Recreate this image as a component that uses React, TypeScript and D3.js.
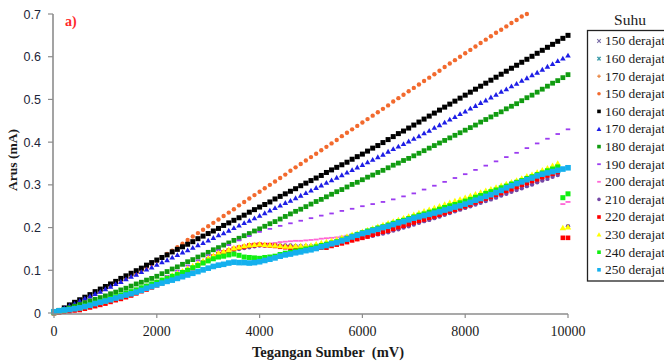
import React from "react";
import * as d3 from "d3";

// ---------- DATA ----------
const VOLTAGE_MV = [
  0, 100, 200, 300, 400, 500, 600, 700, 800, 900,
  1000, 1100, 1200, 1300, 1400, 1500, 1600, 1700, 1800, 1900,
  2000, 2100, 2200, 2300, 2400, 2500, 2600, 2700, 2800, 2900,
  3000, 3100, 3200, 3300, 3400, 3500, 3600, 3700, 3800, 3900,
  4000, 4100, 4200, 4300, 4400, 4500, 4600, 4700, 4800, 4900,
  5000, 5100, 5200, 5300, 5400, 5500, 5600, 5700, 5800, 5900,
  6000, 6100, 6200, 6300, 6400, 6500, 6600, 6700, 6800, 6900,
  7000, 7100, 7200, 7300, 7400, 7500, 7600, 7700, 7800, 7900,
  8000, 8100, 8200, 8300, 8400, 8500, 8600, 8700, 8800, 8900,
  9000, 9100, 9200, 9300, 9400, 9500, 9600, 9700, 9800, 9900,
  10000,
];
const VOLTAGE_MV_190 = VOLTAGE_MV.filter((_, i) => i % 2 === 0);

const LEGEND_TITLE = "Suhu";
const LEGEND_LABELS = [
  "150 derajat", "160 derajat", "170 derajat", "150 derajat", "160 derajat",
  "170 derajat", "180 derajat", "190 derajat", "200 derajat", "210 derajat",
  "220 derajat", "230 derajat", "240 derajat", "250 derajat",
];

const X_TICKS = [0, 2000, 4000, 6000, 8000, 10000];
const Y_TICKS = [0, 0.1, 0.2, 0.3, 0.4, 0.5, 0.6, 0.7];

const S150_A: (number | null)[] = [];
const S160_A: (number | null)[] = [];
const S170_A: (number | null)[] = [];

const S150_B = [
  0.000, 0.005, 0.010, 0.016, 0.021, 0.027, 0.033, 0.039, 0.045, 0.051,
  0.057, 0.063, 0.069, 0.075, 0.081, 0.087, 0.093, 0.099, 0.106, 0.114,
  0.122, 0.130, 0.138, 0.146, 0.154, 0.162, 0.171, 0.179, 0.187, 0.195,
  0.203, 0.211, 0.219, 0.227, 0.235, 0.243, 0.252, 0.260, 0.268, 0.276,
  0.284, 0.292, 0.300, 0.308, 0.316, 0.324, 0.333, 0.341, 0.349, 0.357,
  0.365, 0.373, 0.381, 0.389, 0.397, 0.405, 0.414, 0.422, 0.430, 0.438,
  0.446, 0.454, 0.462, 0.470, 0.478, 0.486, 0.495, 0.503, 0.511, 0.519,
  0.527, 0.535, 0.543, 0.551, 0.559, 0.567, 0.576, 0.584, 0.592, 0.600,
  0.608, 0.616, 0.624, 0.632, 0.640, 0.648, 0.656, 0.663, 0.671, 0.679,
  0.686, 0.694, 0.700,
];

const S160_B = [
  0.002, 0.006, 0.012, 0.019, 0.025, 0.031, 0.037, 0.043, 0.050, 0.056,
  0.062, 0.068, 0.074, 0.081, 0.087, 0.093, 0.099, 0.105, 0.112, 0.118,
  0.124, 0.130, 0.136, 0.143, 0.149, 0.155, 0.161, 0.167, 0.174, 0.180,
  0.186, 0.192, 0.198, 0.205, 0.211, 0.217, 0.223, 0.229, 0.236, 0.242,
  0.248, 0.254, 0.260, 0.267, 0.273, 0.279, 0.285, 0.291, 0.298, 0.304,
  0.310, 0.316, 0.322, 0.329, 0.335, 0.341, 0.347, 0.353, 0.360, 0.366,
  0.372, 0.379, 0.386, 0.392, 0.399, 0.406, 0.413, 0.420, 0.426, 0.433,
  0.440, 0.447, 0.454, 0.461, 0.468, 0.475, 0.482, 0.489, 0.496, 0.503,
  0.510, 0.517, 0.524, 0.531, 0.538, 0.545, 0.552, 0.559, 0.566, 0.573,
  0.580, 0.587, 0.594, 0.601, 0.608, 0.615, 0.622, 0.629, 0.636, 0.643,
  0.650,
];

const S170_B = [
  0.001, 0.006, 0.011, 0.017, 0.022, 0.028, 0.034, 0.039, 0.045, 0.050,
  0.056, 0.062, 0.068, 0.073, 0.079, 0.085, 0.090, 0.096, 0.102, 0.107,
  0.113, 0.119, 0.124, 0.130, 0.136, 0.142, 0.147, 0.153, 0.159, 0.164,
  0.170, 0.176, 0.182, 0.187, 0.193, 0.199, 0.205, 0.211, 0.216, 0.222,
  0.228, 0.234, 0.240, 0.246, 0.252, 0.258, 0.263, 0.269, 0.275, 0.281,
  0.287, 0.293, 0.299, 0.305, 0.311, 0.317, 0.323, 0.329, 0.335, 0.341,
  0.347, 0.353, 0.359, 0.365, 0.371, 0.378, 0.384, 0.390, 0.396, 0.402,
  0.408, 0.414, 0.421, 0.427, 0.434, 0.440, 0.446, 0.453, 0.459, 0.466,
  0.472, 0.479, 0.485, 0.492, 0.498, 0.505, 0.511, 0.518, 0.524, 0.531,
  0.537, 0.544, 0.550, 0.557, 0.563, 0.570, 0.577, 0.583, 0.590, 0.596,
  0.603,
];

const S180 = [
  0.000, 0.004, 0.008, 0.012, 0.016, 0.020, 0.024, 0.028, 0.032, 0.036,
  0.040, 0.045, 0.049, 0.054, 0.058, 0.063, 0.068, 0.072, 0.077, 0.081,
  0.086, 0.092, 0.097, 0.103, 0.108, 0.114, 0.120, 0.125, 0.131, 0.136,
  0.142, 0.148, 0.153, 0.159, 0.164, 0.170, 0.175, 0.181, 0.186, 0.192,
  0.197, 0.203, 0.209, 0.214, 0.220, 0.226, 0.232, 0.238, 0.243, 0.249,
  0.255, 0.261, 0.266, 0.272, 0.278, 0.284, 0.289, 0.295, 0.301, 0.306,
  0.312, 0.318, 0.323, 0.329, 0.334, 0.340, 0.346, 0.351, 0.357, 0.362,
  0.368, 0.374, 0.380, 0.386, 0.392, 0.398, 0.404, 0.410, 0.416, 0.422,
  0.428, 0.434, 0.440, 0.447, 0.453, 0.459, 0.465, 0.471, 0.478, 0.484,
  0.490, 0.497, 0.504, 0.510, 0.517, 0.524, 0.531, 0.538, 0.544, 0.551,
  0.558,
];

// 190 measured every 200 mV
const S190 = [
  0.000, 0.006, 0.012, 0.018, 0.024, 0.030, 0.039, 0.048, 0.057, 0.066,
  0.075, 0.087, 0.099, 0.111, 0.123, 0.135, 0.147, 0.159, 0.170, 0.180,
  0.190, 0.197, 0.204, 0.210, 0.216, 0.222, 0.228, 0.233, 0.239, 0.244,
  0.250, 0.255, 0.260, 0.266, 0.273, 0.280, 0.289, 0.298, 0.307, 0.316,
  0.325, 0.335, 0.345, 0.355, 0.365, 0.375, 0.386, 0.397, 0.408, 0.419,
  0.430,
];

const S200 = [
  0.002, 0.004, 0.005, 0.007, 0.008, 0.010, 0.013, 0.016, 0.019, 0.022,
  0.025, 0.029, 0.033, 0.037, 0.041, 0.045, 0.050, 0.055, 0.060, 0.065,
  0.070, 0.075, 0.081, 0.086, 0.092, 0.097, 0.103, 0.109, 0.115, 0.121,
  0.127, 0.131, 0.135, 0.140, 0.144, 0.148, 0.150, 0.153, 0.155, 0.158,
  0.160, 0.161, 0.163, 0.164, 0.166, 0.167, 0.168, 0.169, 0.169, 0.170,
  0.171, 0.172, 0.174, 0.175, 0.176, 0.177, 0.179, 0.181, 0.183, 0.185,
  0.187, 0.190, 0.192, 0.195, 0.197, 0.200, 0.203, 0.207, 0.210, 0.214,
  0.217, 0.221, 0.225, 0.228, 0.232, 0.236, 0.240, 0.244, 0.249, 0.253,
  0.257, 0.262, 0.266, 0.271, 0.275, 0.280, 0.285, 0.289, 0.294, 0.298,
  0.303, 0.308, 0.313, 0.317, 0.322, 0.327, 0.333, 0.338, 0.344, 0.255,
  0.260,
];

const S210 = [
  0.001, 0.003, 0.004, 0.006, 0.007, 0.009, 0.012, 0.015, 0.018, 0.021,
  0.024, 0.028, 0.032, 0.035, 0.039, 0.043, 0.048, 0.053, 0.058, 0.062,
  0.067, 0.072, 0.078, 0.083, 0.089, 0.094, 0.100, 0.106, 0.112, 0.118,
  0.124, 0.129, 0.134, 0.138, 0.143, 0.148, 0.150, 0.152, 0.154, 0.156,
  0.158, 0.158, 0.158, 0.158, 0.158, 0.158, 0.158, 0.157, 0.157, 0.157,
  0.157, 0.158, 0.159, 0.161, 0.162, 0.163, 0.166, 0.168, 0.171, 0.173,
  0.176, 0.179, 0.181, 0.184, 0.186, 0.189, 0.193, 0.196, 0.200, 0.203,
  0.207, 0.211, 0.215, 0.218, 0.222, 0.226, 0.230, 0.234, 0.238, 0.242,
  0.246, 0.250, 0.254, 0.258, 0.262, 0.266, 0.270, 0.275, 0.279, 0.284,
  0.288, 0.292, 0.297, 0.301, 0.306, 0.310, 0.314, 0.319, 0.323, null,
  0.203,
];

const S220 = [
  0.000, 0.001, 0.003, 0.004, 0.006, 0.007, 0.010, 0.013, 0.016, 0.019,
  0.022, 0.026, 0.030, 0.033, 0.037, 0.041, 0.046, 0.051, 0.055, 0.060,
  0.065, 0.070, 0.076, 0.081, 0.087, 0.092, 0.099, 0.105, 0.112, 0.118,
  0.125, 0.132, 0.138, 0.142, 0.146, 0.150, 0.153, 0.155, 0.158, 0.159,
  0.160, 0.159, 0.158, 0.157, 0.155, 0.154, 0.153, 0.152, 0.151, 0.151,
  0.152, 0.152, 0.153, 0.153, 0.157, 0.160, 0.163, 0.166, 0.170, 0.173,
  0.176, 0.179, 0.183, 0.186, 0.190, 0.193, 0.197, 0.201, 0.204, 0.208,
  0.212, 0.216, 0.219, 0.223, 0.226, 0.230, 0.234, 0.238, 0.242, 0.246,
  0.250, 0.254, 0.259, 0.263, 0.268, 0.272, 0.277, 0.281, 0.286, 0.290,
  0.295, 0.300, 0.304, 0.309, 0.313, 0.318, 0.322, 0.326, 0.330, 0.176,
  0.176,
];

const S230 = [
  0.002, 0.004, 0.006, 0.008, 0.010, 0.012, 0.015, 0.018, 0.022, 0.025,
  0.028, 0.032, 0.036, 0.040, 0.044, 0.048, 0.053, 0.058, 0.062, 0.067,
  0.072, 0.077, 0.082, 0.088, 0.093, 0.098, 0.104, 0.110, 0.116, 0.122,
  0.128, 0.134, 0.140, 0.144, 0.148, 0.152, 0.154, 0.157, 0.159, 0.160,
  0.161, 0.160, 0.159, 0.158, 0.157, 0.156, 0.156, 0.157, 0.157, 0.158,
  0.158, 0.161, 0.164, 0.166, 0.169, 0.172, 0.176, 0.179, 0.183, 0.186,
  0.190, 0.194, 0.198, 0.202, 0.206, 0.210, 0.214, 0.218, 0.222, 0.226,
  0.230, 0.234, 0.238, 0.242, 0.246, 0.250, 0.254, 0.258, 0.262, 0.266,
  0.270, 0.274, 0.278, 0.282, 0.286, 0.290, 0.294, 0.298, 0.302, 0.306,
  0.310, 0.315, 0.320, 0.324, 0.329, 0.334, 0.339, 0.345, 0.350, 0.199,
  0.201,
];

const S240 = [
  0.003, 0.005, 0.007, 0.009, 0.011, 0.013, 0.016, 0.020, 0.023, 0.027,
  0.030, 0.034, 0.038, 0.042, 0.046, 0.050, 0.054, 0.059, 0.063, 0.068,
  0.072, 0.077, 0.081, 0.086, 0.090, 0.095, 0.100, 0.106, 0.111, 0.117,
  0.122, 0.127, 0.131, 0.133, 0.136, 0.138, 0.135, 0.131, 0.130, 0.129,
  0.128, 0.130, 0.131, 0.133, 0.137, 0.140, 0.142, 0.145, 0.147, 0.150,
  0.152, 0.155, 0.158, 0.161, 0.164, 0.167, 0.171, 0.175, 0.180, 0.184,
  0.188, 0.192, 0.195, 0.199, 0.202, 0.206, 0.210, 0.214, 0.217, 0.221,
  0.225, 0.229, 0.232, 0.236, 0.239, 0.243, 0.247, 0.251, 0.254, 0.258,
  0.262, 0.266, 0.271, 0.275, 0.280, 0.284, 0.288, 0.293, 0.297, 0.302,
  0.306, 0.310, 0.315, 0.319, 0.324, 0.328, 0.333, 0.337, 0.342, 0.270,
  0.279,
];

const S250 = [
  0.003, 0.005, 0.007, 0.008, 0.010, 0.012, 0.015, 0.018, 0.022, 0.025,
  0.028, 0.031, 0.035, 0.038, 0.042, 0.045, 0.049, 0.053, 0.058, 0.062,
  0.066, 0.070, 0.074, 0.077, 0.081, 0.085, 0.089, 0.093, 0.097, 0.101,
  0.105, 0.109, 0.112, 0.114, 0.117, 0.119, 0.118, 0.118, 0.117, 0.118,
  0.120, 0.123, 0.126, 0.129, 0.133, 0.136, 0.138, 0.141, 0.143, 0.146,
  0.148, 0.151, 0.155, 0.158, 0.162, 0.165, 0.169, 0.173, 0.178, 0.182,
  0.186, 0.189, 0.193, 0.196, 0.200, 0.203, 0.207, 0.211, 0.214, 0.218,
  0.222, 0.225, 0.228, 0.231, 0.234, 0.237, 0.241, 0.244, 0.248, 0.251,
  0.255, 0.259, 0.264, 0.268, 0.273, 0.277, 0.282, 0.287, 0.293, 0.298,
  0.303, 0.307, 0.312, 0.316, 0.321, 0.325, 0.328, 0.331, 0.334, 0.337,
  0.340,
];

const SERIES_VALUES: (number | null)[][] = [
  S150_A, S160_A, S170_A, S150_B, S160_B, S170_B, S180, S190, S200, S210, S220, S230, S240, S250,
];
const SERIES_X: number[][] = [
  VOLTAGE_MV, VOLTAGE_MV, VOLTAGE_MV, VOLTAGE_MV, VOLTAGE_MV, VOLTAGE_MV, VOLTAGE_MV,
  VOLTAGE_MV_190, VOLTAGE_MV, VOLTAGE_MV, VOLTAGE_MV, VOLTAGE_MV, VOLTAGE_MV, VOLTAGE_MV,
];

// ---------- STYLE ----------
type Shape = "x" | "star" | "plus" | "circle" | "square" | "triangle" | "dash";
const STYLES: { shape: Shape; color: string; size: number }[] = [
  { shape: "x", color: "#7b6fa8", size: 5 },
  { shape: "star", color: "#3a9aa8", size: 5 },
  { shape: "plus", color: "#e8803a", size: 5 },
  { shape: "circle", color: "#f26a2e", size: 4.4 },
  { shape: "square", color: "#000000", size: 5 },
  { shape: "triangle", color: "#1e1ee6", size: 5.2 },
  { shape: "square", color: "#119c11", size: 4.8 },
  { shape: "dash", color: "#9b3cf0", size: 4.5 },
  { shape: "dash", color: "#ff66d6", size: 5 },
  { shape: "circle", color: "#7447a6", size: 4.4 },
  { shape: "square", color: "#ff0000", size: 4.6 },
  { shape: "triangle", color: "#ffff00", size: 6 },
  { shape: "square", color: "#11ee11", size: 5 },
  { shape: "square", color: "#14b0ee", size: 5.6 },
];

const SERIF = "'Liberation Serif', 'Times New Roman', serif";
const SANS = "'Liberation Sans', Arial, sans-serif";

function Marker({ shape, color, size, cx, cy }: { shape: Shape; color: string; size: number; cx: number; cy: number }) {
  const h = size / 2;
  switch (shape) {
    case "square":
      return <rect x={cx - h} y={cy - h} width={size} height={size} fill={color} />;
    case "circle":
      return <circle cx={cx} cy={cy} r={h} fill={color} />;
    case "triangle": {
      const p = d3.symbol(d3.symbolTriangle, size * size * 0.5)();
      return <path d={p || ""} transform={`translate(${cx},${cy + 0.5})`} fill={color} />;
    }
    case "dash":
      return <rect x={cx - h} y={cy - 0.9} width={size} height={1.8} fill={color} />;
    case "plus":
      return (
        <g stroke={color} strokeWidth={1.2}>
          <line x1={cx - h} x2={cx + h} y1={cy} y2={cy} />
          <line x1={cx} x2={cx} y1={cy - h} y2={cy + h} />
        </g>
      );
    case "x":
      return (
        <g stroke={color} strokeWidth={1.1}>
          <line x1={cx - h} x2={cx + h} y1={cy - h} y2={cy + h} />
          <line x1={cx - h} x2={cx + h} y1={cy + h} y2={cy - h} />
        </g>
      );
    case "star":
      return (
        <g stroke={color} strokeWidth={1.1}>
          <line x1={cx - h} x2={cx + h} y1={cy - h} y2={cy + h} />
          <line x1={cx - h} x2={cx + h} y1={cy + h} y2={cy - h} />
          <line x1={cx} x2={cx} y1={cy - h} y2={cy + h} />
        </g>
      );
  }
  return null;
}

export default function App() {
  const W = 664;
  const H = 361;
  const x = d3.scaleLinear().domain([0, 10000]).range([54, 568]);
  const y = d3.scaleLinear().domain([0, 0.7]).range([313, 14]);
  const axisColor = "#8c8c8c";

  const legendTop = 41;
  const legendStep = 17.6;

  return (
    <div style={{ position: "absolute", left: 0, top: 0 }}>
      <svg width={W} height={H} style={{ display: "block", background: "#fff" }}>
        {/* series */}
        {SERIES_VALUES.map((vals, si) => (
          <g key={si}>
            {vals.map((v, i) =>
              v == null ? null : (
                <Marker
                  key={i}
                  shape={STYLES[si].shape}
                  color={STYLES[si].color}
                  size={STYLES[si].size}
                  cx={x(SERIES_X[si][i])}
                  cy={y(v)}
                />
              )
            )}
          </g>
        ))}

        {/* axes */}
        <line x1={x(0)} x2={x(10000)} y1={y(0) + 1} y2={y(0) + 1} stroke={axisColor} strokeWidth={1.6} />
        <line x1={x(0) - 1} x2={x(0) - 1} y1={y(0.7)} y2={y(0) + 1} stroke={axisColor} strokeWidth={1.6} />
        {X_TICKS.map((t) => (
          <g key={t}>
            <line x1={x(t)} x2={x(t)} y1={y(0) + 1} y2={y(0) + 5} stroke={axisColor} strokeWidth={1.2} />
            <text x={x(t)} y={336} textAnchor="middle" fontFamily={SERIF} fontSize={14} fill="#1a1a1a">
              {t}
            </text>
          </g>
        ))}
        {Y_TICKS.map((t) => (
          <g key={t}>
            <line x1={x(0) - 6} x2={x(0) - 1} y1={y(t)} y2={y(t)} stroke={axisColor} strokeWidth={1.2} />
            <text x={41} y={y(t) + 4.5} textAnchor="end" fontFamily={SANS} fontSize={12.5} fill="#1c2438">
              {d3.format(".1~f")(t)}
            </text>
          </g>
        ))}

        {/* axis titles */}
        <text x={328} y={357} textAnchor="middle" fontFamily={SERIF} fontSize={14.5} fontWeight="bold" fill="#1a1a1a">
          Tegangan Sumber{"\u00a0\u00a0"}(mV)
        </text>
        <text
          transform={`translate(17,160) rotate(-90)`}
          textAnchor="middle"
          fontFamily={SERIF}
          fontSize={13.5}
          fontWeight="bold"
          fill="#1a1a1a"
        >
          Arus (mA)
        </text>
        <text x={65} y={26} fontFamily={SERIF} fontSize={14} fontWeight="bold" fill="#ff2a2a">
          a)
        </text>

        {/* legend */}
        <text x={630} y={25} textAnchor="middle" fontFamily={SERIF} fontSize={15.5} fill="#1a1a1a">
          {LEGEND_TITLE}
        </text>
        <rect x={587.5} y={30.5} width={90} height={250.5} fill="#fff" stroke="#222" strokeWidth={1.3} />
        {LEGEND_LABELS.map((lab, i) => {
          const cy = legendTop + i * legendStep;
          const st = STYLES[i];
          return (
            <g key={i}>
              <Marker shape={st.shape} color={st.color} size={st.shape === "triangle" ? 4.5 : 3.6} cx={599} cy={cy} />
              <text x={605} y={cy + 4.3} fontFamily={SERIF} fontSize={13.4} fill="#1a1a1a">
                {lab}
              </text>
            </g>
          );
        })}
      </svg>
    </div>
  );
}
